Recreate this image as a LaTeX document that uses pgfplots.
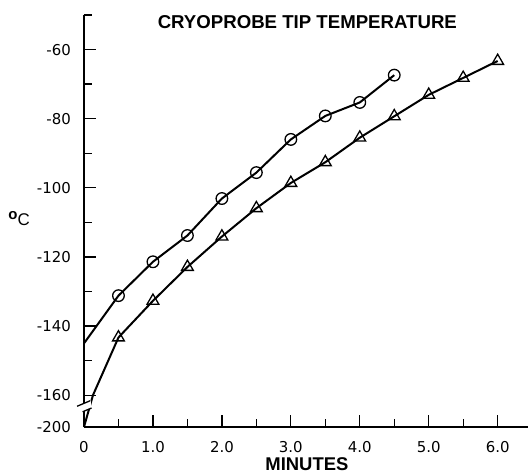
\documentclass[border=0pt]{standalone}
\usepackage{fontspec}
\setmainfont{Liberation Sans}
\newfontfamily\tickfont{DejaVu Sans}
\usepackage{pgfplots}
\pgfplotsset{compat=1.18}
\begin{document}
\begin{tikzpicture}
\useasboundingbox (-84bp,-48bp) rectangle (445bp,427bp);
\begin{axis}[
  at={(0,0)}, anchor=south west,
  scale only axis, width=444bp, height=412bp,
  xmin=0, xmax=6.44, ymin=-169.2, ymax=-50,
  axis x line=bottom, axis y line=left,
  axis line style={-, line width=1.4bp},
  clip=false,
  xtick={0,1,2,3,4,5,6},
  xticklabels={0,1.0,2.0,3.0,4.0,5.0,6.0},
  minor xtick={0.5,1.5,2.5,3.5,4.5,5.5},
  ytick={-169.2,-160,-140,-120,-100,-80,-60},
  yticklabels={-200,-160,-140,-120,-100,-80,-60},
  minor ytick={-150,-130,-110,-90,-70,-50},
  tick align=inside,
  major tick length=12bp, minor tick length=8bp,
  every tick/.style={black, line width=1.3bp},
  ticklabel style={font=\tickfont\fontsize{15}{15}\selectfont, inner sep=0pt},
  xticklabel style={anchor=north, yshift=-14bp},
  yticklabel style={anchor=east, xshift=-13bp},
]
% circles
\addplot[black, line width=2bp, mark=o, mark size=5.8bp, mark phase=2, mark repeat=1,
  mark options={fill=white, line width=1.3bp}]
  coordinates {(0,-145) (0.5,-131.2) (1,-121.4) (1.5,-113.8) (2,-103.1) (2.5,-95.6)
               (3,-86) (3.5,-79.2) (4,-75.3) (4.5,-67.4)};
% triangles
\addplot[black, line width=2bp, mark=triangle, mark size=6.8bp, mark phase=3, mark repeat=1,
  mark options={fill=white, line width=1.3bp}]
  coordinates {(0,-169.2) (0.13,-160) (0.5,-143.3) (1,-132.7) (1.5,-122.9) (2,-114.1)
               (2.5,-105.9) (3,-98.6) (3.5,-92.6) (4,-85.5) (4.5,-79.3) (5,-73.1)
               (5.5,-68.2) (6,-63.3)};
% axis break
\fill[white] (axis cs:-0.10,-163.2) -- (axis cs:0.10,-161.5) -- (axis cs:0.10,-163.8) -- (axis cs:-0.10,-165.5) -- cycle;
\draw[line width=1.3bp] (axis cs:-0.10,-163.2) -- (axis cs:0.09,-161.6);
\draw[line width=1.3bp] (axis cs:-0.02,-164.8) -- (axis cs:0.11,-163.7);
\node[font=\bfseries\fontsize{18.7}{18.7}\selectfont] at (axis description cs:0.503,0.983) {CRYOPROBE TIP TEMPERATURE};
\node[font=\bfseries\fontsize{18.5}{18.5}\selectfont] at (axis description cs:0.502,-0.091) {MINUTES};
\node[font=\fontsize{17}{17}\selectfont] at (axis description cs:-0.146,0.505) {\raisebox{6bp}{\bfseries\fontsize{15}{15}\selectfont o}C};
\end{axis}
\end{tikzpicture}
\end{document}
